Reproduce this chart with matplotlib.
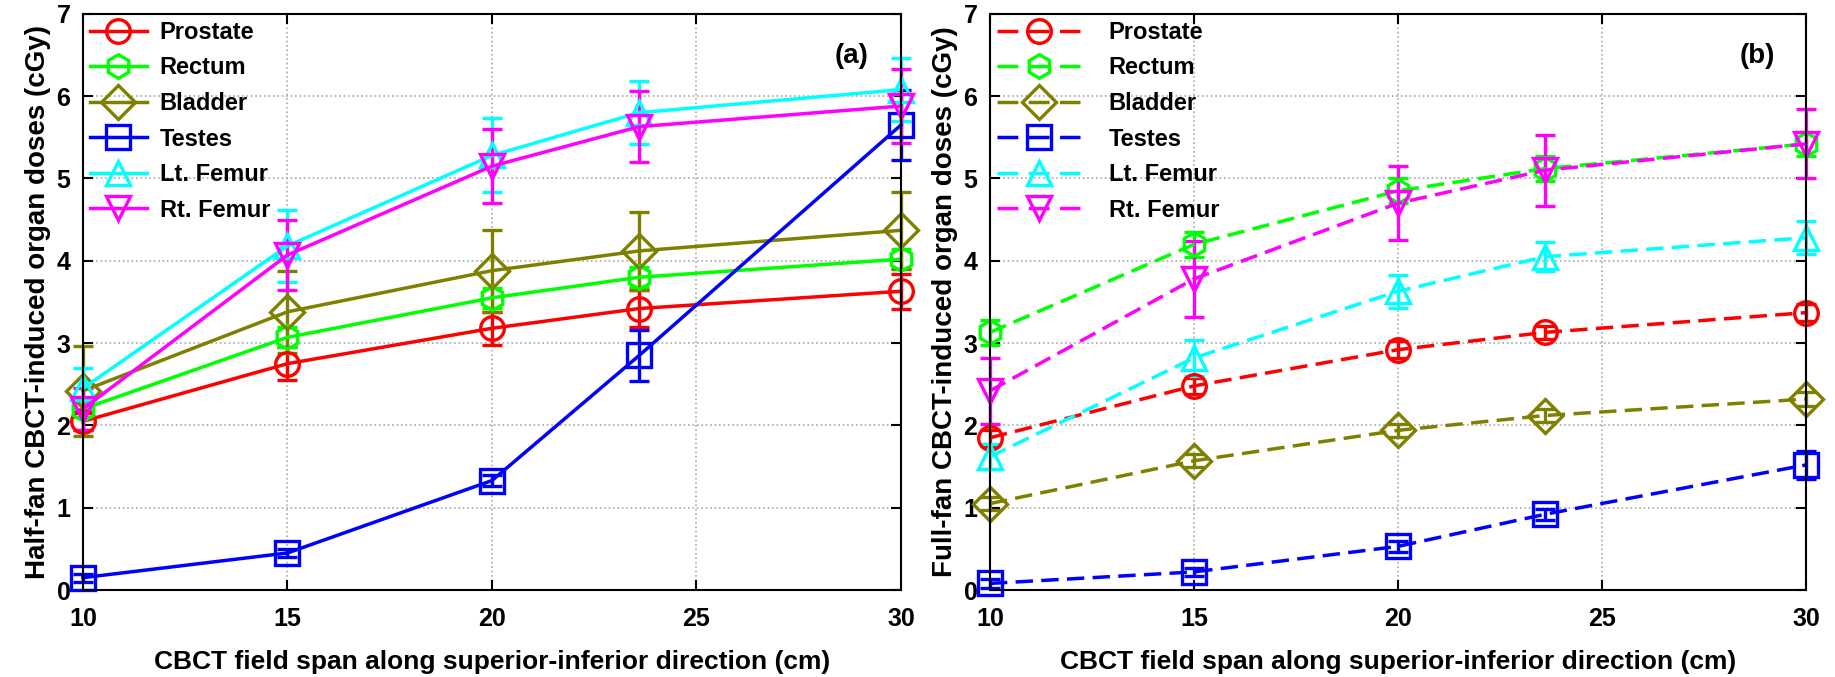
import numpy as np
import matplotlib.pyplot as plt
from matplotlib.lines import Line2D

plt.rcParams['font.family'] = ['Liberation Sans', 'DejaVu Sans']
plt.rcParams['font.weight'] = 'bold'

span = [10, 15, 20, 23.6, 30]
organs = ['Prostate', 'Rectum', 'Bladder', 'Testes', 'Lt. Femur', 'Rt. Femur']
colors = ['#ff0000', '#00ff00', '#808000', '#0000ff', '#00ffff', '#ff00ff']
markers = ['o', 'h', 'D', 's', '^', 'v']

# half-fan doses (cGy) and std
half_prostate = [2.05, 2.75, 3.18, 3.42, 3.63]
half_rectum = [2.20, 3.07, 3.55, 3.80, 4.02]
half_bladder = [2.42, 3.38, 3.88, 4.12, 4.37]
half_testes = [0.15, 0.45, 1.33, 2.85, 5.65]
half_ltfemur = [2.45, 4.18, 5.28, 5.80, 6.08]
half_rtfemur = [2.20, 4.07, 5.15, 5.63, 5.88]

half_prostate_sd = [0.10, 0.20, 0.20, 0.22, 0.21]
half_rectum_sd = [0.10, 0.12, 0.12, 0.12, 0.12]
half_bladder_sd = [0.55, 0.50, 0.50, 0.47, 0.47]
half_testes_sd = [0.05, 0.05, 0.07, 0.31, 0.43]
half_ltfemur_sd = [0.25, 0.44, 0.45, 0.38, 0.38]
half_rtfemur_sd = [0.25, 0.43, 0.45, 0.43, 0.45]

# full-fan doses (cGy) and std
full_prostate = [1.85, 2.48, 2.92, 3.13, 3.37]
full_rectum = [3.13, 4.20, 4.85, 5.12, 5.42]
full_bladder = [1.05, 1.57, 1.94, 2.12, 2.32]
full_testes = [0.08, 0.22, 0.53, 0.92, 1.52]
full_ltfemur = [1.62, 2.82, 3.63, 4.05, 4.28]
full_rtfemur = [2.42, 3.78, 4.70, 5.10, 5.42]

full_prostate_sd = [0.10, 0.10, 0.10, 0.08, 0.10]
full_rectum_sd = [0.15, 0.15, 0.15, 0.15, 0.15]
full_bladder_sd = [0.08, 0.08, 0.08, 0.08, 0.08]
full_testes_sd = [0.05, 0.05, 0.07, 0.07, 0.17]
full_ltfemur_sd = [0.15, 0.22, 0.20, 0.18, 0.20]
full_rtfemur_sd = [0.40, 0.46, 0.45, 0.43, 0.42]

half = [half_prostate, half_rectum, half_bladder, half_testes, half_ltfemur, half_rtfemur]
half_sd = [half_prostate_sd, half_rectum_sd, half_bladder_sd, half_testes_sd,
           half_ltfemur_sd, half_rtfemur_sd]
full = [full_prostate, full_rectum, full_bladder, full_testes, full_ltfemur, full_rtfemur]
full_sd = [full_prostate_sd, full_rectum_sd, full_bladder_sd, full_testes_sd,
           full_ltfemur_sd, full_rtfemur_sd]

fig = plt.figure(figsize=(18.35, 6.77), dpi=100)
ax1 = fig.add_axes([0.0452, 0.1285, 0.4458, 0.851])
ax2 = fig.add_axes([0.5395, 0.1285, 0.4447, 0.851])

LW = 2.5
MS = 17
MEW = 2.4


def draw_panel(ax, vals, sds, ls, leg_ls, tag, ylabel, hlen, hpad):
    handles = []
    for name, v, sd, c, m in zip(organs, vals, sds, colors, markers):
        line, caps, bars = ax.errorbar(span, v, yerr=sd, color=c, lw=LW, ls=ls,
                                       marker=m, ms=MS, mfc='none', mec=c, mew=MEW,
                                       capsize=7.5, capthick=MEW, elinewidth=MEW,
                                       clip_on=False)
        for b in bars:
            b.set_linestyle('-')
            b.set_clip_on(False)
        for cp in caps:
            cp.set_clip_on(False)
        handles.append(Line2D([], [], color=c, lw=LW, ls=leg_ls, marker=m, ms=MS,
                              mfc='none', mec=c, mew=MEW, label=name))
    ax.set_xlim(10, 30)
    ax.set_ylim(0, 7)
    ax.set_xticks([10, 15, 20, 25, 30])
    ax.set_yticks(range(8))
    ax.grid(True, ls=':', color='#a8a8a8', lw=1.2)
    ax.tick_params(direction='in', length=7, width=1.5, top=True, right=True,
                   labelsize=18)
    ax.tick_params(axis='x', pad=12)
    ax.tick_params(axis='y', pad=9)
    for s in ax.spines.values():
        s.set_linewidth(1.5)
    ax.set_xlabel('CBCT field span along superior-inferior direction (cm)',
                  fontsize=19, fontweight='bold', labelpad=14)
    ax.set_ylabel(ylabel, fontsize=20, fontweight='bold', labelpad=4)
    ax.text(28.8, 6.49, tag, fontsize=20, fontweight='bold', ha='center', va='center')
    ax.legend(handles=handles, loc='upper left', frameon=False, fontsize=17,
              handlelength=hlen, handletextpad=hpad, labelspacing=0.53,
              borderaxespad=0.15, borderpad=0.15, numpoints=1)


draw_panel(ax1, half, half_sd, '-', '-', '(a)',
           'Half-fan CBCT-induced organ doses (cGy)', 2.4, 0.55)
draw_panel(ax2, full, full_sd, (0, (5, 2.4)), (0, (6, 3)), '(b)',
           'Full-fan CBCT-induced organ doses (cGy)', 3.53, 1.2)

fig.savefig('out.png', dpi=100)
